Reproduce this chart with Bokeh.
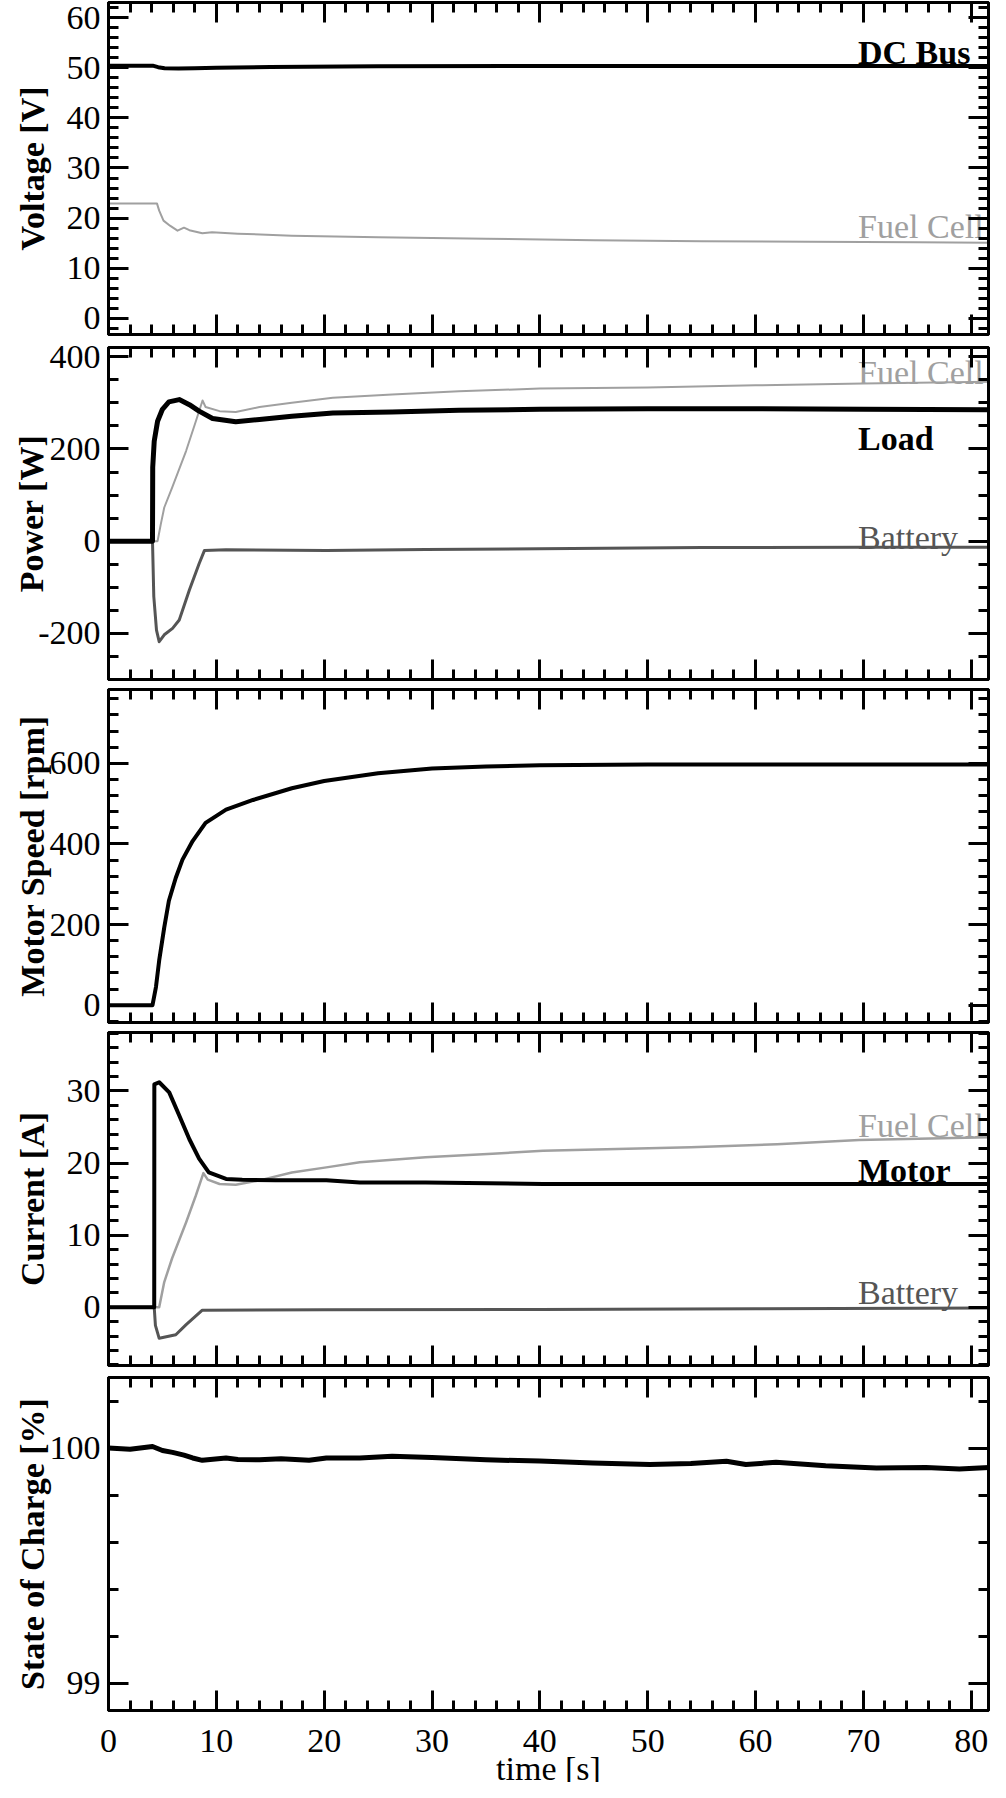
from bokeh.plotting import figure
from bokeh.models import LinearAxis, SingleIntervalTicker, Range1d, NumeralTickFormatter, Title
from bokeh.layouts import column
from bokeh.embed import file_html
from bokeh.resources import INLINE
from bokeh.core.properties import value

# ---------------- data ----------------
x_ticks_interval = 10

# Panel 1: Voltage [V]
t_vbus = [0, 4.1, 4.6, 5.2, 6.5, 8.0, 10.0, 15.0, 25.0, 50.0, 82.6]
v_bus = [50.4, 50.4, 50.1, 49.9, 49.85, 49.9, 50.0, 50.15, 50.3, 50.35, 50.35]
t_vfc = [0, 4.5, 4.7, 5.1, 5.7, 6.4, 7.0, 7.5, 8.7, 9.6, 12, 17, 25, 35, 45, 55, 65, 75, 82.6]
v_fc = [22.9, 22.9, 21.5, 19.5, 18.5, 17.5, 18.1, 17.6, 17.0, 17.2, 16.9, 16.5, 16.2, 15.9, 15.6, 15.4, 15.3, 15.2, 15.1]

# Panel 2: Power [W]
t_pload = [0, 4.08, 4.1, 4.24, 4.55, 5.0, 5.6, 6.56, 7.5, 8.4, 9.65, 11.8, 14, 17, 20.8, 26.3, 32.5, 40, 50, 60, 70, 82.6]
p_load = [0, 0, 160, 217, 260, 286, 302, 307, 296, 282, 266, 259, 264, 271, 278, 280, 284, 286, 287, 287, 286, 285]
t_pfc = [0, 4.55, 4.85, 5.17, 5.9, 7.2, 8.1, 8.72, 9.0, 10.3, 11.8, 14, 17, 20.8, 26.3, 32.5, 40, 50, 60, 70, 82.6]
p_fc = [0, 0, 37, 73, 116, 196, 260, 305, 291, 282, 280, 291, 300, 311, 318, 325, 331, 333, 338, 342, 346]
t_pbat = [0, 4.08, 4.2, 4.45, 4.7, 5.17, 5.94, 6.56, 7.5, 8.4, 8.9, 10.9, 20.2, 29.4, 40, 55, 70, 82.6]
p_bat = [0, 0, -120, -193, -218, -203, -189, -171, -106, -49, -20, -18.5, -20, -18, -16.5, -14, -13, -13]

# Panel 3: Motor Speed [rpm]
t_speed = [0, 4.08, 4.4, 4.7, 5.17, 5.6, 6.24, 6.86, 7.8, 9.0, 10.9, 13.4, 17, 20, 25, 30, 35, 40, 50, 60, 70, 82.6]
speed = [0, 0, 45, 111, 193, 259, 316, 361, 407, 452, 485, 509, 538, 556, 575, 587, 592, 595, 597, 597, 597, 597]

# Panel 4: Current [A]
t_imot = [0, 4.24, 4.25, 4.7, 5.63, 6.56, 7.5, 8.4, 9.3, 10.9, 12.4, 15.5, 20.2, 23.3, 29.4, 40.3, 55, 70, 82.6]
i_mot = [0, 0, 30.9, 31.2, 29.8, 26.6, 23.3, 20.6, 18.7, 17.8, 17.7, 17.6, 17.6, 17.3, 17.3, 17.1, 17.1, 17.1, 17.1]
t_ifc = [0, 4.7, 5.17, 5.9, 7.2, 8.1, 8.8, 9.2, 10.3, 11.8, 14, 17, 20.2, 23.3, 29.4, 35.6, 40.3, 54, 62, 69.6, 82.6]
i_fc = [0, 0, 3.5, 6.8, 11.8, 15.5, 18.6, 17.7, 17.1, 17.0, 17.6, 18.7, 19.4, 20.1, 20.8, 21.3, 21.7, 22.2, 22.6, 23.2, 23.6]
t_ibat = [0, 4.24, 4.35, 4.7, 6.24, 7.2, 8.7, 20, 40, 60, 82.6]
i_bat = [0, 0, -2.5, -4.3, -3.8, -2.4, -0.4, -0.35, -0.3, -0.2, -0.1]

# Panel 5: State of Charge [%]
t_soc = [0, 2, 4.08, 5.0, 5.94, 7.0, 7.8, 8.7, 10.9, 12, 14, 16, 18.6, 20.2, 23.3, 26.3, 30, 35, 40,
         44.9, 50.2, 54, 57.3, 59.1, 61.9, 66.5, 71.2, 75.8, 78.9, 82.6]
soc = [100.0, 99.995, 100.007, 99.99, 99.982, 99.97, 99.958, 99.948, 99.958, 99.952, 99.95, 99.955, 99.948,
       99.958, 99.958, 99.965, 99.96, 99.95, 99.945, 99.937, 99.93, 99.935, 99.944, 99.93, 99.94, 99.925,
       99.915, 99.918, 99.911, 99.92]

y_labels = ["Voltage [V]", "Power [W]", "Motor Speed [rpm]", "Current [A]", "State of Charge [%]"]
x_label = "time [s]"

# ---------------- styling ----------------
FONT = "Liberation Serif"
FS = "34px"
FRAME_W = 880
X_END = 81.6
FC_COLOR = "#a0a0a0"
BAT_COLOR = "#555555"
TXT_DY = -4


def style_axis(ax, ticker, show_labels):
    ax.ticker = ticker
    ax.major_tick_in = 20
    ax.major_tick_out = 0
    ax.minor_tick_in = 10
    ax.minor_tick_out = 0
    ax.major_tick_line_width = 3
    ax.minor_tick_line_width = 3
    ax.major_tick_line_color = "black"
    ax.minor_tick_line_color = "black"
    ax.axis_line_width = 3
    ax.axis_line_color = "black"
    if show_labels:
        ax.formatter = NumeralTickFormatter(format="0")
        ax.major_label_text_font = FONT
        ax.major_label_text_font_size = FS
        ax.major_label_text_color = "black"
    else:
        ax.major_label_text_color = None
        ax.major_label_standoff = 0


def make_fig(y0, y1, y_int, y_minor, frame_h, top, bottom, ylabel, ylab_standoff, x_labels=False):
    p = figure(frame_width=FRAME_W, frame_height=frame_h,
               x_range=Range1d(0, X_END), y_range=Range1d(y0, y1),
               output_backend="svg", toolbar_location=None,
               min_border_left=108, min_border_right=2,
               min_border_top=top, min_border_bottom=bottom,
               x_axis_location=None, y_axis_location=None)
    p.grid.visible = False
    p.outline_line_color = "black"
    p.outline_line_width = 3
    p.background_fill_color = "white"
    p.border_fill_color = "white"

    def xt():
        return SingleIntervalTicker(interval=x_ticks_interval, num_minor_ticks=5)

    def yt():
        return SingleIntervalTicker(interval=y_int, num_minor_ticks=y_minor)

    bx = LinearAxis()
    style_axis(bx, xt(), x_labels)
    if x_labels:
        bx.major_label_standoff = 19
    p.add_layout(bx, "below")
    ax_ = LinearAxis()
    style_axis(ax_, xt(), False)
    p.add_layout(ax_, "above")
    ly = LinearAxis()
    style_axis(ly, yt(), True)
    ly.major_label_standoff = 8
    ly.axis_label = ylabel
    ly.axis_label_text_font = FONT
    ly.axis_label_text_font_size = FS
    ly.axis_label_text_font_style = "bold"
    ly.axis_label_text_color = "black"
    ly.axis_label_standoff = ylab_standoff
    p.add_layout(ly, "left")
    ry = LinearAxis()
    style_axis(ry, yt(), False)
    p.add_layout(ry, "right")
    return p


def add_text(p, x, y, txt, color, bold=False):
    p.text(x=[x], y=[y], text=[txt], text_font=value(FONT), text_font_size=FS,
           text_font_style="bold" if bold else "normal", text_color=color,
           text_align="left", text_baseline="alphabetic", y_offset=TXT_DY)


# Panel 1
p1 = make_fig(-3.2, 63, 10, 5, 332, 2, 3, y_labels[0], 13)
p1.line(t_vfc, v_fc, line_width=2, color=FC_COLOR, line_join="round")
p1.line(t_vbus, v_bus, line_width=4, color="black", line_join="round")
add_text(p1, 69.5, 52.3, "DC Bus", "black", bold=True)
add_text(p1, 69.5, 17.6, "Fuel Cell", FC_COLOR)

# Panel 2
p2 = make_fig(-300, 420, 200, 4, 332, 10, 2, y_labels[1], -15)
p2.line(t_pfc, p_fc, line_width=2, color=FC_COLOR, line_join="round")
p2.line(t_pbat, p_bat, line_width=3, color=BAT_COLOR, line_join="round")
p2.line(t_pload, p_load, line_width=5, color="black", line_join="round")
add_text(p2, 69.5, 357.5, "Fuel Cell", FC_COLOR)
add_text(p2, 69.5, 213.6, "Load", "black", bold=True)
add_text(p2, 69.5, 0, "Battery", BAT_COLOR)

# Panel 3
p3 = make_fig(-43, 783, 200, 5, 333, 8, 2, y_labels[2], -4)
p3.line(t_speed, speed, line_width=4, color="black", line_join="round")

# Panel 4
p4 = make_fig(-8.07, 38.1, 10, 5, 333, 8, 2, y_labels[3], 13)
p4.line(t_ifc, i_fc, line_width=2.5, color=FC_COLOR, line_join="round")
p4.line(t_ibat, i_bat, line_width=3, color=BAT_COLOR, line_join="round")
p4.line(t_imot, i_mot, line_width=4, color="black", line_join="round")
add_text(p4, 69.5, 24.7, "Fuel Cell", FC_COLOR)
add_text(p4, 69.5, 18.4, "Motor", "black", bold=True)
add_text(p4, 69.5, 1.46, "Battery", BAT_COLOR)

# Panel 5
p5 = make_fig(98.885, 100.30, 1, 5, 333, 10, 72, y_labels[4], -4, x_labels=True)
p5.line(t_soc, soc, line_width=5, color="black", line_join="round")
p5.add_layout(Title(text="\n" + x_label, align="center", vertical_align="middle", standoff=-52, offset=4,
                    text_font=FONT, text_font_size=FS, text_font_style="normal",
                    text_line_height=0.55, text_color="black"), "below")

layout = column(p1, p2, p3, p4, p5, spacing=0)
open("out.html", "w").write(file_html(layout, INLINE))
